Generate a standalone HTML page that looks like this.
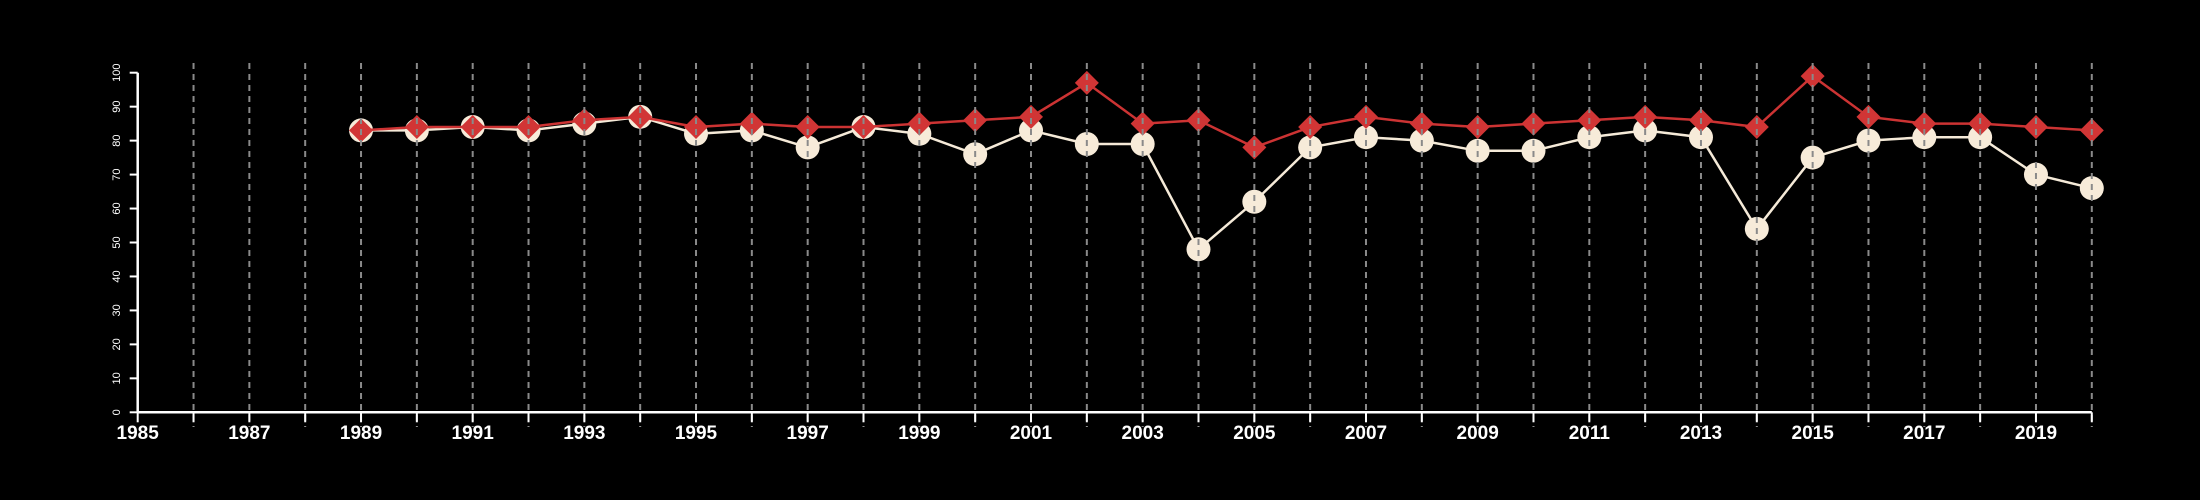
<!DOCTYPE html>
<html><head><meta charset="utf-8"><style>
html,body{margin:0;padding:0;background:#000;}
svg{display:block;font-family:"Liberation Sans",sans-serif;}
</style></head><body>
<svg id="chart" width="2200" height="500" viewBox="0 0 2200 500" xmlns="http://www.w3.org/2000/svg">
<rect width="2200" height="500" fill="#000"/>
<g id="marks"></g><g id="grid"></g><g id="axes"></g>
</svg>
<script>
const years = [1989,1990,1991,1992,1993,1994,1995,1996,1997,1998,1999,2000,2001,2002,2003,2004,2005,2006,2007,2008,2009,2010,2011,2012,2013,2014,2015,2016,2017,2018,2019,2020];
const whiteSeries = [83,83,84,83,85,87,82,83,78,84,82,76,83,79,79,48,62,78,81,80,77,77,81,83,81,54,75,80,81,81,70,66];
const redSeries = [83,84,84,84,86,87,84,85,84,84,85,86,87,97,85,86,78,84,87,85,84,85,86,87,86,84,99,87,85,85,84,83];
const yTicks = [0,10,20,30,40,50,60,70,80,90,100];
const xLabelYears = [1985,1987,1989,1991,1993,1995,1997,1999,2001,2003,2005,2007,2009,2011,2013,2015,2017,2019];
const xMin=1985,xMax=2020,yMin=0,yMax=100;
const X0=137.7,X1=2091.8,Y0=412.3,Y1=72.7;
const sx=v=>X0+(v-xMin)/(xMax-xMin)*(X1-X0);
const sy=v=>Y0+(v-yMin)/(yMax-yMin)*(Y1-Y0);
const NS="http://www.w3.org/2000/svg";
function mk(tag,attrs,parent){const e=document.createElementNS(NS,tag);for(const k in attrs)e.setAttribute(k,attrs[k]);parent.appendChild(e);return e;}
const marks=document.getElementById('marks'),grid=document.getElementById('grid'),axes=document.getElementById('axes');
// white line + circles
let p=years.map((y,i)=>(i?'L':'M')+sx(y)+' '+sy(whiteSeries[i])).join(' ');
let wl=mk('path',{d:p,fill:'none',stroke:'#f5ead8','stroke-width':2.5},marks);


years.forEach((y,i)=>{const c=mk('circle',{cx:sx(y),cy:sy(whiteSeries[i]),r:12,fill:'#f7ebd9'},marks);

});
p=years.map((y,i)=>(i?'L':'M')+sx(y)+' '+sy(redSeries[i])).join(' ');
let rl=mk('path',{d:p,fill:'none',stroke:'#cc3333','stroke-width':2.5},marks);


years.forEach((y,i)=>{const cx=sx(y),cy=sy(redSeries[i]),r=12;
const d=mk('polygon',{points:`${cx},${cy-r} ${cx+r},${cy} ${cx},${cy+r} ${cx-r},${cy}`,fill:'#d13535'},marks);

});
// vertical gridlines each year
for(let y=1986;y<=2020;y++){const g=mk('line',{x1:sx(y),x2:sx(y),y1:63,y2:427,stroke:'#8a8a8a','stroke-width':2,'stroke-dasharray':'6,5'},grid);

}
// axes
const xa=mk('line',{x1:X0,x2:X1,y1:Y0,y2:Y0,stroke:'#fff','stroke-width':2.5},axes);


const ya=mk('line',{x1:X0,x2:X0,y1:Y0,y2:Y1,stroke:'#fff','stroke-width':2.5},axes);


for(let y=1985;y<=2020;y++){const t=mk('line',{x1:sx(y),x2:sx(y),y1:Y0,y2:Y0+10,stroke:'#fff','stroke-width':2},axes);

}
xLabelYears.forEach(y=>{const t=mk('text',{x:sx(y),y:439,fill:'#fff','font-size':19,'font-weight':'bold','text-anchor':'middle'},axes);t.textContent=y;

});
yTicks.forEach(v=>{const t=mk('line',{x1:X0-8,x2:X0,y1:sy(v),y2:sy(v),stroke:'#fff','stroke-width':2},axes);


const l=mk('text',{x:0,y:0,fill:'#fff','font-size':11,'text-anchor':'middle',transform:`translate(120,${sy(v)}) rotate(-90)`},axes);l.textContent=v;

});
</script>
</body></html>
